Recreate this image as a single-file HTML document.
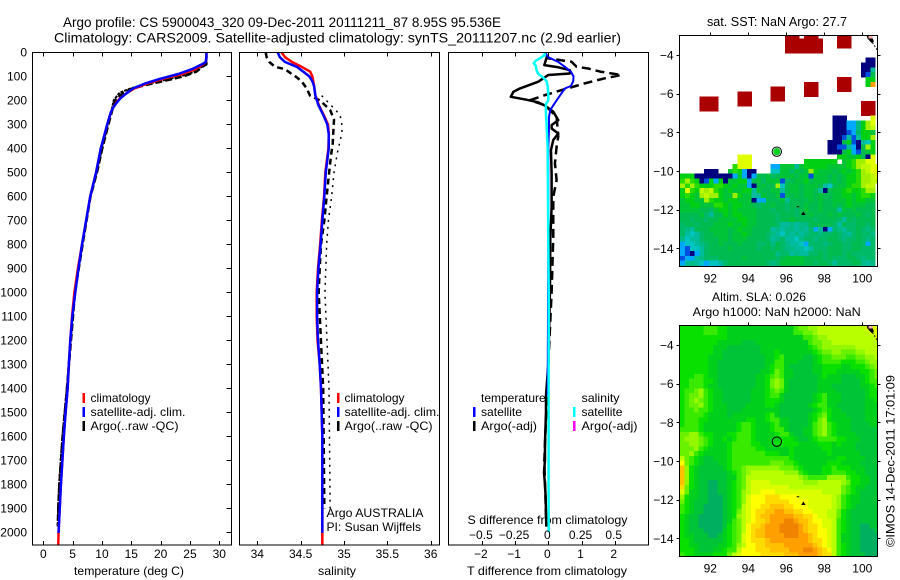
<!DOCTYPE html>
<html lang="en">
<head>
<meta charset="utf-8">
<title>Argo profile</title>
<style>
html,body{margin:0;padding:0;background:#fff;}
svg{display:block;}
text{font-family:"Liberation Sans",sans-serif;font-size:12px;fill:#000;}
</style>
</head>
<body>
<svg id="fig" xmlns="http://www.w3.org/2000/svg" width="900" height="580" viewBox="0 0 900 580">
  <rect width="900" height="580" fill="#fff"/>
  <text x="63" y="27" style="font-size:14px" textLength="438" lengthAdjust="spacingAndGlyphs">Argo profile: CS 5900043_320 09-Dec-2011 20111211_87 8.95S 95.536E</text>
  <text x="54" y="42.5" style="font-size:14px" textLength="567" lengthAdjust="spacingAndGlyphs">Climatology: CARS2009. Satellite-adjusted climatology: synTS_20111207.nc (2.9d earlier)</text>
  <text x="74" y="575" textLength="110" lengthAdjust="spacingAndGlyphs">temperature (deg C)</text>
  <text x="318" y="575" textLength="38" lengthAdjust="spacingAndGlyphs">salinity</text>
  <text x="467" y="575" textLength="160" lengthAdjust="spacingAndGlyphs">T difference from climatology</text>
  <text x="467.5" y="524" textLength="160" lengthAdjust="spacingAndGlyphs">S difference from climatology</text>
  <text x="326.5" y="517" textLength="97" lengthAdjust="spacingAndGlyphs">Argo AUSTRALIA</text>
  <text x="326.5" y="531" textLength="94.5" lengthAdjust="spacingAndGlyphs">PI: Susan Wijffels</text>
  <text x="707" y="26" style="font-size:13px" textLength="140" lengthAdjust="spacingAndGlyphs">sat. SST: NaN Argo: 27.7</text>
  <text x="712" y="301" textLength="94" lengthAdjust="spacingAndGlyphs">Altim. SLA: 0.026</text>
  <text x="692.7" y="316" textLength="168" lengthAdjust="spacingAndGlyphs">Argo h1000: NaN h2000: NaN</text>
  <text transform="translate(894.5,547) rotate(-90)" textLength="172" lengthAdjust="spacingAndGlyphs">©IMOS 14-Dec-2011 17:01:09</text>

  <rect x="82.5" y="393" width="2.5" height="10" fill="#ff0000"/>
  <rect x="82.5" y="407" width="2.5" height="10" fill="#0000ff"/>
  <rect x="82.5" y="421" width="2.5" height="10" fill="#000"/>
  <text x="90.5" y="402" textLength="60" lengthAdjust="spacingAndGlyphs">climatology</text>
  <text x="90.5" y="416" textLength="95" lengthAdjust="spacingAndGlyphs">satellite-adj. clim.</text>
  <text x="90.5" y="430" textLength="88" lengthAdjust="spacingAndGlyphs">Argo(..raw -QC)</text>

  <rect x="337" y="393" width="2.5" height="10" fill="#ff0000"/>
  <rect x="337" y="407" width="2.5" height="10" fill="#0000ff"/>
  <rect x="337" y="421" width="2.5" height="10" fill="#000"/>
  <text x="344.5" y="402" textLength="60" lengthAdjust="spacingAndGlyphs">climatology</text>
  <text x="344.5" y="416" textLength="95" lengthAdjust="spacingAndGlyphs">satellite-adj. clim.</text>
  <text x="344.5" y="430" textLength="88" lengthAdjust="spacingAndGlyphs">Argo(..raw -QC)</text>

  <text x="481" y="402">temperature</text>
  <rect x="473" y="407" width="2.5" height="10" fill="#0000ff"/>
  <rect x="473" y="421" width="2.5" height="10" fill="#000"/>
  <text x="481" y="416" textLength="41" lengthAdjust="spacingAndGlyphs">satellite</text>
  <text x="481" y="430" textLength="56" lengthAdjust="spacingAndGlyphs">Argo(-adj)</text>
  <text x="581.5" y="402" textLength="38" lengthAdjust="spacingAndGlyphs">salinity</text>
  <rect x="573" y="407" width="2.5" height="10" fill="#00ffff"/>
  <rect x="573" y="421" width="2.5" height="10" fill="#ff00ff"/>
  <text x="581.5" y="416" textLength="41" lengthAdjust="spacingAndGlyphs">satellite</text>
  <text x="581.5" y="430" textLength="56" lengthAdjust="spacingAndGlyphs">Argo(-adj)</text>
</svg>
<script>
// ---------- tick labels ----------
const depthTicks = [0,100,200,300,400,500,600,700,800,900,1000,1100,1200,1300,1400,1500,1600,1700,1800,1900,2000];
const tempTicks = [0,5,10,15,20,25,30];
const salTicks = [34,34.5,35,35.5,36];
const salTickLabels = ['34','34.5','35','35.5','36'];
const tdiffTicks = [-2,-1,0,1,2];
const tdiffTickLabels = ['\u22122','\u22121','0','1','2'];
const sdiffTicks = [-0.5,-0.25,0,0.25,0.5];
const sdiffTickLabels = ['\u22120.5','\u22120.25','0','0.25','0.5'];
const lonTicks = [92,94,96,98,100];
const latTicks = [-4,-6,-8,-10,-12,-14];

// ---------- temperature profiles ----------
const tempDepth = [0,20,40,50,70,90,110,130,150,170,190,210,230,250,300,400,500,600,700,800,900,1000,1100,1200,1300,1400,1500,1600,1700,1800,1900,2002];
const tempSat = [27.8,27.8,27.7,27.0,25.3,23,19.9,17.3,15.3,14.2,13.2,12.5,11.9,11.5,10.9,9.8,9.0,8.0,7.3,6.6,6.0,5.45,4.95,4.6,4.35,4.15,3.8,3.5,3.25,3.0,2.8,2.6];
const tempClimDepth = [0,20,40,50,70,90,110,130,150,170,190,210,230,250,300,400,500,600,700,800,900,1000,1100,1200,1300,1400,1500,1600,1700,1800,1900,2000,2054];
const tempClim = [27.8,27.8,27.7,27.2,25.9,23.7,20.4,17.7,15.5,14.2,13.1,12.4,11.9,11.5,10.9,9.8,9.0,8.0,7.3,6.6,5.9,5.3,4.9,4.6,4.35,4.15,3.8,3.5,3.25,3.0,2.8,2.6,2.55];
const argoTDepth = [0,50,55,80,100,120,135,150,168,187,200,250,300,400,500,600,800,1000,1400,1600,1800,1900,1975];
const argoTDash = [27.8,27.8,27.4,26.1,23.9,20.4,17.6,15.3,13.6,12.8,12.2,11.65,11.1,10.05,9.15,8.05,6.7,5.4,4.04,3.3,2.73,2.56,2.48];
const argoTRaw = [27.8,27.8,27.3,25.8,23.4,19.8,17.0,14.9,13.0,12.4,12.0,11.55,11.0,10.0,9.1,8.0,6.65,5.35,4.0,3.25,2.7,2.52,2.45];

// ---------- salinity profiles ----------
const salDepth = [0,20,40,60,80,100,120,140,180,220,260,300,340,400,500,600,700,800,900,1000,1100,1200,1300,1400,1600,2002];
const salSat = [34.235,34.26,34.32,34.454,34.53,34.60,34.635,34.654,34.67,34.705,34.76,34.807,34.824,34.824,34.79,34.773,34.75,34.73,34.705,34.69,34.69,34.70,34.72,34.735,34.75,34.75];
const salClimDepth = [0,20,40,60,80,100,120,140,180,220,260,300,340,400,500,600,700,800,900,1000,1100,1200,1300,1400,1600,2000,2054];
const salClim = [34.28,34.32,34.40,34.51,34.61,34.635,34.645,34.655,34.67,34.71,34.765,34.815,34.825,34.82,34.785,34.77,34.745,34.725,34.70,34.685,34.685,34.695,34.72,34.735,34.75,34.75,34.75];
const argoSDepth = [0,20,40,60,70,85,100,120,150,180,200,240,280,330,380,430,520,600,700,800,900,1000,1400,1900];
const argoSDash = [34.097,34.108,34.139,34.204,34.32,34.377,34.44,34.51,34.57,34.608,34.723,34.84,34.885,34.877,34.87,34.85,34.823,34.80,34.773,34.735,34.72,34.708,34.76,34.773];
const argoSDotDepth = [180,220,260,310,340,420,500,600,700,800,1000,1400,1900];
const argoSDot = [34.742,34.85,34.954,34.98,34.973,34.923,34.885,34.858,34.82,34.80,34.78,34.827,34.84];

// ---------- difference profiles ----------
const dtSatDepth = [0,20,40,60,80,100,120,140,150,180,210,240,270,320,400,800,1430];
const dtSat = [-0.1,0,0.3,0.5,0.68,0.76,0.75,0.68,0.5,0.35,0.2,0.06,0.02,0.02,0,0,-0.02];
const dsSatDepth = [0,10,20,35,45,55,75,90,105,120,140,170,200,215,250,300,400,1000,1800,2000];
const dsSat = [-0.03,-0.025,-0.05,-0.095,-0.11,-0.095,-0.088,-0.075,-0.038,-0.013,-0.005,0,0,-0.018,-0.018,-0.013,-0.005,0.003,0.002,0.003];
const dtArgoDepth = [21,53,62,74,88,94,122,150,164,185,196,208,222,247,282,303,317,338,365,407,504,643,782,1000,1300,1430,1500,1628,1700,1750,1800,1850,1976];
const dtArgo = [-0.05,-0.12,0.3,0.65,0.65,0,-0.3,-0.85,-1.05,-1.13,-0.7,-0.3,-0.1,0.15,0.3,0.1,0.1,0.3,0.15,0.08,0.1,0.1,0.06,0.05,0,-0.07,-0.07,-0.1,-0.1,-0.13,-0.1,-0.08,-0.06];
const dtRawDepth = [4,25,39,60,67,80,94,108,129,157,178,199,220,268,351,393,462,532,601,685,770,1000,1300,1700,1976];
const dtRaw = [-0.1,0,0.7,0.85,1.2,1.56,2.2,1.7,1.1,0.4,-0.1,-0.55,-0.1,0.25,0.3,0.25,0.2,0.25,0.15,0.15,0.15,0.1,0,-0.12,-0.06];

// ---------- maps ----------
const argoLon = 95.5;
const argoLat = -9;
const floatTrackLon = [96.6,96.9];
const floatTrackLat = [-11.85,-12.2];
const sstLevels = {N:'#00007f',B:'#0050e0',S:'#00a8ff',C:'#00c4c0',T:'#00bc9c',U:'#00ba84',V:'#00ba68',G:'#00bc50',H:'#00c438',I:'#00d014',J:'#28dc00',L:'#a0f000',M:'#c0f800',Y:'#e0ff00',O:'#ffa000',R:'#aa0000'};
const slaLevels = {a:'#00b060',b:'#00c438',c:'#00d01c',d:'#08e000',e:'#38ea00',f:'#68f200',g:'#94f800',h:'#b8ff00',i:'#dcff00',j:'#ffff00',k:'#ffdc00',l:'#ffc000',m:'#ffa000',n:'#f08400'};
const sstGrid = [
"......................RRR.RRR....RRR",
"......................RRRRRRRR...RRR",
"......................RRRRRRRR...RRR",
"......................RRRRRRRR",
"",
".......................................NN",
"......................................NNN",
"......................................NNT",
"......................................NBG",
".................................RRR...II",
"..........................RRR....RRR...IO",
"...................RRR....RRR....RRR",
"............RRR....RRR....RRR",
"....RRRR....RRR....RRR",
"....RRRR....RRR.......................RRR",
"....RRRR..............................RRR",
"......................................RRR",
"................................NNN.....Y",
"................................NNNSSUILY",
"................................NNNSSUILM",
"................................NNNBSVIIH",
"................................NNBTBTIIL",
"...............................NNNGIBNTCI",
"...............................NNBBTSNGLI",
"...............................NNNGISBGHI",
"............YYY..................IIHHIGNY",
"............YYY...........IIIIIII.HIJLLYY",
"...........JYYY....SSHHHTHIIIIIHHHHIJLMMYY",
".....NNN..HJISNN...CCHHVHGHLIHHHGHIHIJLMYY",
"IIINNNNNNNNSHSNSGGHVGHHHGHHBHHHGHGHIIJLLMY",
"JLJINBISINHHIISGHVHHHBVGHHIGHHHGHGHIIJLLMM",
"LJLJIIIJJIHIHHSNGHGGLCGHHGHHHGTCGHHIJJLMM",
"IYJIMLMJIHIHHIITHGGHHTGHHGHHGTNGHHIJIIJLL",
"IJIHLMLLIHHLIHHTTHGGHBGGHGHHGHGGHHIIHIJJI",
"HIIHHLJIIHIIHHHNSSGGGHTGGGGHGHGGHHHIHIIHH",
"HHIIHHHJJIHIIHHGVGGHGGVGGGHGGHGGHGHIHHHGG",
"HHHHGGVHIIHIHHHHGGGVGGVGVGHGGHGGGTHGHGGGG",
"GGGGHVTGGIHIIHHHGGGGVGGGVGGHGGGHGHGGGHGVG",
"GGVGGVGGHHHHIIHHGGGGVGGHGGGGVGGGGVTGVGGGG",
"VGGVGGGHHHIHHIHHGGGGVTTUTUUGGGGGVTGVVGGVG",
"VUTGGGHHHHGHIHHGGGGTUTUUTUTVSTNSVUTVVGVUV",
"VTCTVGGHHHGHHIHGGGVUTCUTUTUVVUVVGVUTVGVVU",
"UCTTVGGGHHGHHHGGGGVTUVTTCUVVUVVGGVUVVGVUV",
"SCCTUVGGHGGGHGGGVVGUGVUTTCSVVVUVGGVVGGVSV",
"SBCCTVGGGGHGGGGGVGGVGVUUTTCTVVVGGGVVGGVVV",
"SBNSTVGGGGGGGGGGGGGGUVVTUTTVVGVGGGVGVVVVV",
"BSSTUVVVGGGGGHGGGGGGVGHHHHGGGGVGVVVGGVUVV",
"STUTCSCCTVGGGGGGGGVUVHHHHHGGVGGVTVVVGGUTU",
"VVVVSSCSSGGGGGGGGGGVUGGGGGGGGGGGVVTVVTTTT"
];
const slaGrid = [
"dddddeeeddcccccccccccccceffgghhhhhhhhhhiii",
"dddddeeeddcccccccccccccceeffghhhhhhhhhhhii",
"ddddddddddcccccccccccccccceefgghhhhhhhhhhi",
"ddddddddcccccbbbccccccccccceffgghhhhhhhhhh",
"dddddddcccbbbbbbbccccccccccdefggggggghhhhh",
"dddddddccbbbbbbbbcccdcccccccdeffggfffgghhh",
"ddddddcccbbbbbbbbbccdeccccbbcdeefffeeffggh",
"ddddddccbbbbbbbbbbcceecccbbbcdeeeedddeefgg",
"ddddddccbbbbbbbbbbcdeecbbbbbccddddccdddefg",
"ddddddccbbbbbbbbbccdfeccbbbbccdddcccccddef",
"dddeedccbbbbbbbbccdefeccbbbbbcdcccbbbccdef",
"ddeeeddcbbbbbbbbccdfgfcbbbbbbcccccbbbbcdee",
"ddeeedccbbbbbbbbccdfgfcbbbbbbcccbbbbbbccde",
"deefgedccbbbbbbcccdefecbbbbbbccccbbbbbbcdd",
"deffgedccbbbbbbcccdeecbbbbbbcdecccbbbbbcdd",
"defgfedccbbbbbbcccdddcbbbbbbcdecccbbbbbccd",
"deffgedcccbbbbccccddcbbbbbbcdeeccbbbbbbccc",
"deefeedcccbbbccccccccbbbbbbbcdedccbbbbbccc",
"deeeedccccbcccccccdecbbbbbbcdefdcccbbbbccc",
"deeeddccccccccddccdeeccbbbbcdfgdccccbbbccc",
"deeedcccccccdeedcccdeccbbbbcefgedcccbbbbcc",
"eeeedcccccccdeedcccdeecbbbccefgedcccbbbbbb",
"ffggeddcccddeeedccccdeecbbccefgedccccbbbbb",
"fgggfedccdcdeeedcccccdddcbbcdeeeeddcccbbbb",
"ffggfedcccdeeeeddcccdddddccccdddcdcccbbbbb",
"fffgedccccdeeeeeddcccccdccccccddcccccbbbbb",
"ffgedcccccdeeeeeeedddccdcccccccdccccccbbbb",
"hfedcbbcccdeeeeeeeeeeeedcccccccccddccccbbb",
"jfedcbbbccdeeeeeeeefffeedccccccdddccccbbbb",
"lgdcbbbbbcdeefgggggggfffedccccddedddcccbbb",
"lgdcbbbbbbcdefghhhhhhhgggedcccddeeeddccbbb",
"lgdcbbbbbbccefhhhhhhhhhhhgfeeeeggggeddccbb",
"lgdcbbaabbcdefhiiiihhhhhhhggghhhhhgfddccbb",
"kfdcbbaabbcdefhiiiiiiiihhhhhhhhhhhfedccbbb",
"ifccbbaabbcdeghiijjjiiiiiiiiiihhhhfedcbbbb",
"gdccbbaaabcdegijjjkkkjjjjiiiiiiihgedccbbbb",
"fdcbbbaaabcdegijjjkkkkkjjjjiiiiihgedccbbbb",
"edcbbaaaabcdehijjkklllkkjjjiiiiihgedcbbbbb",
"edcbbaaaabcdfhijkkllmmllkkjjiiihhfdcbbbbbb",
"dcbbaaaaabcdghijkllmmmmmllkkjiihhfdcbbbbbb",
"dcbbaaaaabcefhijkklmmmnnmllkjjiihedcbbbbbb",
"dcbbaaaaabdefhjkklmmmnnnnmlkkjiihedcbbaabb",
"dcbbbaaaacdefhjkllmmmnnnnmlkkjjihedcbbaaab",
"dccbbbaabcdefijkllmmmmnnnmmlkjjiheccbbaaaa",
"ddcbbbbbbcdefijkkklmmmmmmmmlkkjiheccbbaaaa",
"ddccbbbbccdeghjjkkllllmmmmmmlkjihedcbbaaaa",
"dddcbbbccdeehjjjkkkllllmmmnnmlkjhedcbbaaaa",
"eddccccdddfhijjjjkkkkklllmmmmlkkhedcbbbaaa"
];

// ---------- drawing ----------
const NS = 'http://www.w3.org/2000/svg';
const fig = document.getElementById('fig');
function mk(tag, attrs, parent) {
  const el = document.createElementNS(NS, tag);
  for (const k in attrs) el.setAttribute(k, attrs[k]);
  (parent || fig).appendChild(el);
  return el;
}
const panelTop = 52.5, panelBottom = 545;
const yDepth = d => 52.4 + d * 0.24;
const xTemp = t => 43.3 + t * 5.867;
const xSal = s => 257.3 + (s - 34) * 86.7;
const xTdiff = t => 548.3 + t * 33.2;
const xSdiff = s => 548.3 + s * 132.8;

function polyline(xs, ys, xScale, stroke, width, dash, name) {
  const pts = xs.map((v, i) => xScale(v).toFixed(2) + ',' + yDepth(ys[i]).toFixed(2)).join(' ');
  const p = mk('polyline', {points: pts, fill: 'none', stroke: stroke, 'stroke-width': width, 'stroke-linejoin': 'round'});
  if (dash) p.setAttribute('stroke-dasharray', dash);
  
  
}
function tickLine(x1, y1, x2, y2) {
  const l = mk('line', {x1: x1, y1: y1, x2: x2, y2: y2, stroke: '#000', 'stroke-width': 1, 'shape-rendering': 'crispEdges'});
  
  
}
function tickText(x, y, anchor, str) {
  const t = mk('text', {x: x, y: y, 'text-anchor': anchor});
  t.textContent = str;
  
  
}
function frame(x0, x1, y0, y1, name) {
  const r = mk('rect', {x: x0, y: y0, width: x1 - x0, height: y1 - y0, fill: 'none', stroke: '#000', 'stroke-width': 1, 'shape-rendering': 'crispEdges'});
  
  
}

// temperature panel
polyline(argoTRaw, argoTDepth, xTemp, '#000', 2, '3 1', 'temperature-argo-raw-line');
polyline(argoTDash, argoTDepth, xTemp, '#000', 2.5, '7 3', 'temperature-argo-qc-line');
polyline(tempClim, tempClimDepth, xTemp, '#ff0000', 2.5, null, 'temperature-climatology-line');
polyline(tempSat, tempDepth, xTemp, '#0000ff', 2.5, null, 'temperature-satellite-line');
frame(32.5, 231.5, panelTop, panelBottom, 'temperature-panel-frame');
depthTicks.forEach(d => {
  const y = Math.round(yDepth(d)) + 0.5;
  if (d > 0) tickLine(226.5, y, 231.5, y);
  tickText(27, y + 4, 'end', String(d));
});
tempTicks.forEach(t => {
  const x = Math.round(xTemp(t)) + 0.5;
  tickLine(x, panelTop, x, panelTop + 4);
  tickLine(x, panelBottom - 4, x, panelBottom);
  tickText(xTemp(t), 558, 'middle', String(t));
});

// salinity panel
polyline(argoSDot, argoSDotDepth, xSal, '#000', 1.5, '2 5', 'salinity-argo-raw-line');
polyline(argoSDash, argoSDepth, xSal, '#000', 2.5, '6 4', 'salinity-argo-qc-line');
polyline(salClim, salClimDepth, xSal, '#ff0000', 2.5, null, 'salinity-climatology-line');
polyline(salSat, salDepth, xSal, '#0000ff', 2.5, null, 'salinity-satellite-line');
frame(239.5, 439.5, panelTop, panelBottom, 'salinity-panel-frame');
salTicks.forEach((s, i) => {
  const x = Math.round(xSal(s)) + 0.5;
  tickLine(x, panelTop, x, panelTop + 4);
  tickLine(x, panelBottom - 4, x, panelBottom);
  tickText(xSal(s), 558, 'middle', salTickLabels[i]);
});

// difference panel
polyline(dtArgo, dtArgoDepth, xTdiff, '#000', 2.5, null, 'tdiff-argo-adjusted-line');
polyline(dtRaw, dtRawDepth, xTdiff, '#000', 2.5, '9 5', 'tdiff-argo-raw-line');
polyline(dtSat, dtSatDepth, xTdiff, '#0000ff', 2, null, 'tdiff-satellite-line');
polyline(dsSat, dsSatDepth, xSdiff, '#00ffff', 2.5, null, 'sdiff-satellite-line');
frame(448.5, 648.5, panelTop, panelBottom, 'difference-panel-frame');
tdiffTicks.forEach((t, i) => {
  const x = Math.round(xTdiff(t)) + 0.5;
  tickLine(x, panelTop, x, panelTop + 4);
  tickLine(x, panelBottom - 4, x, panelBottom);
  tickText(xTdiff(t) - 1, 558, 'middle', tdiffTickLabels[i]);
});
sdiffTicks.forEach((s, i) => {
  tickText(xSdiff(s) - 1, 539, 'middle', sdiffTickLabels[i]);
});

// maps
const mapLeft = 679.5, mapRight = 877.5;
const xLon = lon => 710.3 + (lon - 92) * 19;
function drawMap(top, bottom, lat4Y, grid, levels, colOffset, rowOffset, name, filled) {
  const yLat = lat => lat4Y + (-4 - lat) * 19.33;
  const clipId = name + '-clip';
  const cp = mk('clipPath', {id: clipId});
  mk('rect', {x: mapLeft, y: top, width: mapRight - mapLeft, height: bottom - top}, cp);
  const g = mk('g', {'clip-path': 'url(#' + clipId + ')'});
  
  
  const cw = 4.75, ch = 4.83;
  grid.forEach((row, r) => {
    for (let c = 0; c < 43; c++) {
      const key = row[c] || (filled ? row[row.length - 1] : '.');
      const col = levels[key];
      if (!col) continue;
      const x = mapLeft + (c + colOffset) * cw;
      const y = top + (r + rowOffset) * ch;
      const cell = mk('rect', {x: (c === 0 ? mapLeft : x).toFixed(2), y: y.toFixed(2), width: (c === 0 ? x + cw - mapLeft + 0.4 : cw + 0.4).toFixed(2), height: (ch + 0.4).toFixed(2), fill: col, 'shape-rendering': 'crispEdges'}, g);
      
      
    }
  });
  // coastline fragment in the top-right corner
  const land = mk('polygon', {points: (mapRight - 11) + ',' + top + ' ' + (mapRight - 6) + ',' + top + ' ' + (mapRight - 3.5) + ',' + (top + 6) + ' ' + (mapRight - 6) + ',' + (top + 7.5) + ' ' + (mapRight - 10) + ',' + (top + 3), fill: '#000'}, g);
  
  
  const coast = mk('line', {x1: mapRight - 5, y1: top + 7, x2: mapRight, y2: top + 15, stroke: '#000', 'stroke-width': 1.2, 'stroke-dasharray': '1.5 2'}, g);
  
  
  const pink = mk('rect', {x: mapRight - 9, y: top, width: 4, height: 3, fill: '#ffb0b0'}, g);
  
  
  // float track markers
  const d = mk('rect', {x: xLon(floatTrackLon[0]) - 1, y: yLat(floatTrackLat[0]) - 0.5, width: 2.5, height: 1, fill: '#000'}, g);
  
  
  const tx = xLon(floatTrackLon[1]), ty = yLat(floatTrackLat[1]);
  const tri = mk('polygon', {points: (tx - 2.2) + ',' + (ty + 1.5) + ' ' + (tx + 2.2) + ',' + (ty + 1.5) + ' ' + tx + ',' + (ty - 2), fill: '#000'}, g);
  
  
  // Argo location
  const ring = mk('circle', {cx: xLon(argoLon), cy: yLat(argoLat), r: 4.7, fill: 'none', stroke: '#000', 'stroke-width': 1}, g);
  
  
  if (!filled) {
    const dot = mk('circle', {cx: xLon(argoLon), cy: yLat(argoLat), r: 3.6, fill: '#00d020'}, g);
    
    
  }
  frame(mapLeft, mapRight, top, bottom, name + '-frame');
  lonTicks.forEach(lon => {
    const x = Math.round(xLon(lon)) + 0.5;
    tickLine(x, top - 3, x, top);
    tickText(xLon(lon), bottom + 16, 'middle', String(lon));
  });
  latTicks.forEach(lat => {
    const y = Math.round(yLat(lat)) + 0.5;
    tickLine(mapLeft - 3, y, mapLeft, y);
    tickLine(mapRight, y, mapRight + 3, y);
    tickText(mapLeft - 6, yLat(lat) + 4.5, 'end', '\u2212' + Math.abs(lat));
  });
}
drawMap(35.5, 266.5, 55, sstGrid, sstLevels, 0.16, -0.4, 'sst-map', false);
drawMap(325.5, 556.5, 345, slaGrid, slaLevels, 0, 0, 'sla-map', true);
</script>
</body>
</html>
